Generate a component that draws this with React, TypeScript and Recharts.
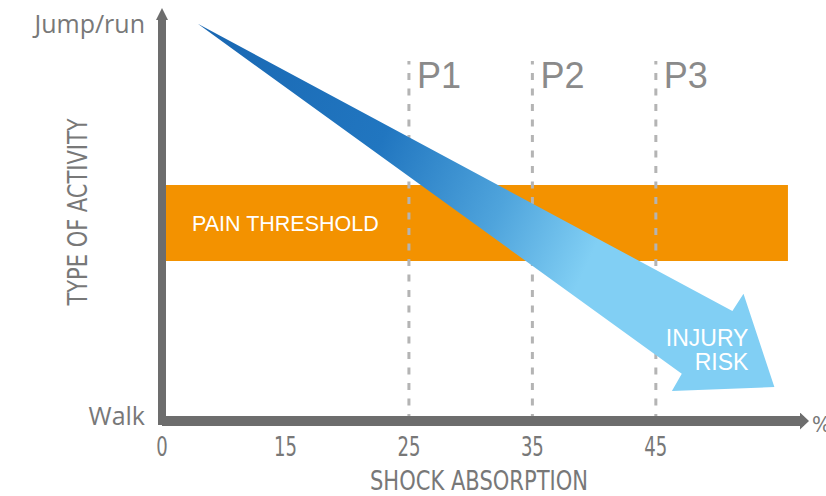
import React from 'react'
import { ComposedChart, XAxis, YAxis, ReferenceArea, ReferenceLine, Label, Scatter } from 'recharts'

// x is measured in tick steps (0, 15, 25, 35, 45 are evenly spaced on the axis)
const xTickValues = [0, 1, 2, 3, 4]
const xTickLabels = ['0', '15', '25', '35', '45']
const yTickValues = [0, 100]
const yTickLabels = ['Walk', 'Jump/run']

const phaseLabels = ['P1', 'P2', 'P3']
const phaseX = [2, 3, 4]
const phaseTop = 90

const bandX = [0, 5.07]
const bandY = [40, 59]

// outline of the injury-risk arrow: tail, upper notch, upper barb, head, lower barb, lower notch
const arrowX = [0.29, 4.62, 4.71, 4.96, 4.13, 4.21]
const arrowY = [99.3, 27.5, 31.8, 8.5, 7.5, 11.8]

const injuryLines = ['INJURY', 'RISK']
const injuryX = 4.75
const injuryY = [20.8, 14.8]

const AXIS = '#6d6d6d'
const TEXT = '#787878'
const narrow = "'Liberation Sans Narrow', 'Arial Narrow', 'DejaVu Sans Condensed', sans-serif"
const sans = "'Liberation Sans', Arial, sans-serif"
const humanist = "'Open Sans', 'Noto Sans', sans-serif"

const arrowData = arrowX.map((x, i) => ({ x, y: arrowY[i] }))

const Defs = () => (
  <svg width="0" height="0" style={{ position: 'absolute' }}>
    <defs>
      <linearGradient id="injury-gradient" x1="0" y1="0" x2="1" y2="0.3">
        <stop offset="0" stopColor="#1967b2" />
        <stop offset="0.38" stopColor="#2176c0" />
        <stop offset="0.62" stopColor="#4fa4dc" />
        <stop offset="0.8" stopColor="#81cff4" />
        <stop offset="1" stopColor="#81cff4" />
      </linearGradient>
      <marker id="arrow-x" markerUnits="userSpaceOnUse" viewBox="0 0 9 17" markerWidth="9" markerHeight="17" refX="4" refY="8.5" orient="auto">
        <path d="M0,0 L9,8.5 L0,17 Z" fill={AXIS} />
      </marker>
      <marker id="arrow-y" markerUnits="userSpaceOnUse" viewBox="0 0 13 12" markerWidth="13" markerHeight="12" refX="0" refY="6" orient="auto-start-reverse">
        <path d="M1,0 L13,6 L1,12 Z" fill={AXIS} />
      </marker>
    </defs>
  </svg>
)

const ArrowShape = (props: any) => {
  const { x, y, width, height } = props
  const x0 = Math.min(...arrowX)
  const x1 = Math.max(...arrowX)
  const y0 = Math.min(...arrowY)
  const y1 = Math.max(...arrowY)
  const px = (v: number) => x + ((v - x0) / (x1 - x0)) * width
  const py = (v: number) => y + ((y1 - v) / (y1 - y0)) * height
  const points = arrowX.map((v, i) => `${px(v)},${py(arrowY[i])}`).join(' ')
  return (
    <g>
      <polygon points={points} fill="url(#injury-gradient)" />
      {injuryLines.map((t, i) => (
        <text key={t} x={px(injuryX)} y={py(injuryY[i])} textAnchor="end" dominantBaseline="central" fill="#fff" fontSize={23} fontFamily={sans}>
          {t}
        </text>
      ))}
    </g>
  )
}

const XTick = (p: any) => {
  const label = xTickLabels[xTickValues.indexOf(p.payload.value)]
  return (
    <text x={p.x} y={p.y + 33} textAnchor="middle" fill={TEXT} fontSize={26} fontFamily={narrow} textLength={label.length * 11.5} lengthAdjust="spacingAndGlyphs">
      {label}
    </text>
  )
}

const YTick = (p: any) => {
  const i = yTickValues.indexOf(p.payload.value)
  return (
    <text x={p.x - 15} y={p.y + (i === 0 ? 4 : 12)} textAnchor="end" fill={TEXT} fontSize={25} fontFamily={humanist}>
      {yTickLabels[i]}
    </text>
  )
}

export default function App() {
  return (
    <div style={{ position: 'absolute', left: 0, top: 0, background: '#fff' }}>
      <Defs />
      <ComposedChart width={826} height={496} data={arrowData} margin={{ top: 21, right: 22, left: 0, bottom: 0 }}>
        <XAxis
          type="number"
          dataKey="x"
          domain={[0, 5.2]}
          allowDataOverflow
          ticks={xTickValues}
          interval={0}
          tickSize={0}
          tickLine={false}
          height={75}
          axisLine={{ stroke: AXIS, strokeWidth: 10, markerEnd: 'url(#arrow-x)' }}
          tick={XTick}
        >
          <Label
            content={(props: any) => {
              const vb = props.viewBox
              return (
                <g>
                  <text x={vb.x + vb.width / 2 - 4} y={vb.y + 69} textAnchor="middle" fill={TEXT} fontSize={26} fontFamily={narrow} textLength={218} lengthAdjust="spacingAndGlyphs">
                    SHOCK ABSORPTION
                  </text>
                  <text x={vb.x + vb.width + 8} y={vb.y + 11} textAnchor="start" fill={TEXT} fontSize={22} fontFamily={narrow}>
                    %
                  </text>
                </g>
              )
            }}
          />
        </XAxis>
        <YAxis
          type="number"
          dataKey="y"
          domain={[0, 100]}
          allowDataOverflow
          ticks={yTickValues}
          interval={0}
          width={162}
          tickSize={0}
          tickLine={false}
          axisLine={{ stroke: AXIS, strokeWidth: 8, strokeLinecap: 'square', markerStart: 'url(#arrow-y)' }}
          tick={YTick}
        >
          <Label
            content={(props: any) => {
              const vb = props.viewBox
              const cx = vb.x + 78
              const cy = vb.y + 191
              return (
                <text x={cx} y={cy} transform={`rotate(-90, ${cx}, ${cy})`} textAnchor="middle" dominantBaseline="central" fill={TEXT} fontSize={26} fontFamily={narrow} textLength={187} lengthAdjust="spacingAndGlyphs">
                  TYPE OF ACTIVITY
                </text>
              )
            }}
          />
        </YAxis>

        <ReferenceArea
          x1={bandX[0]}
          x2={bandX[1]}
          y1={bandY[0]}
          y2={bandY[1]}
          fill="#f39200"
          fillOpacity={1}
          stroke="none"
          zIndex={100}
          label={{ value: 'PAIN THRESHOLD', position: 'insideLeft', offset: 30, fill: '#fff', fontSize: 21.5, fontFamily: sans }}
        />

        {phaseX.map((px, i) => (
          <ReferenceLine
            key={phaseLabels[i]}
            segment={[{ x: px, y: 0 }, { x: px, y: phaseTop }]}
            stroke="#b4b4b4"
            strokeWidth={3}
            strokeDasharray="7 8.5"
            zIndex={110}
            label={(props: any) => {
              const vb = props.viewBox
              return (
                <text x={vb.x + 8} y={vb.y + 27} fill="#8a8a8a" fontSize={36} fontFamily={sans}>
                  {phaseLabels[i]}
                </text>
              )
            }}
          />
        ))}

        <ReferenceArea
          x1={Math.min(...arrowX)}
          x2={Math.max(...arrowX)}
          y1={Math.min(...arrowY)}
          y2={Math.max(...arrowY)}
          zIndex={120}
          shape={ArrowShape}
        />
        <Scatter dataKey="y" isAnimationActive={false} shape={() => <g />} legendType="none" />
      </ComposedChart>
    </div>
  )
}
